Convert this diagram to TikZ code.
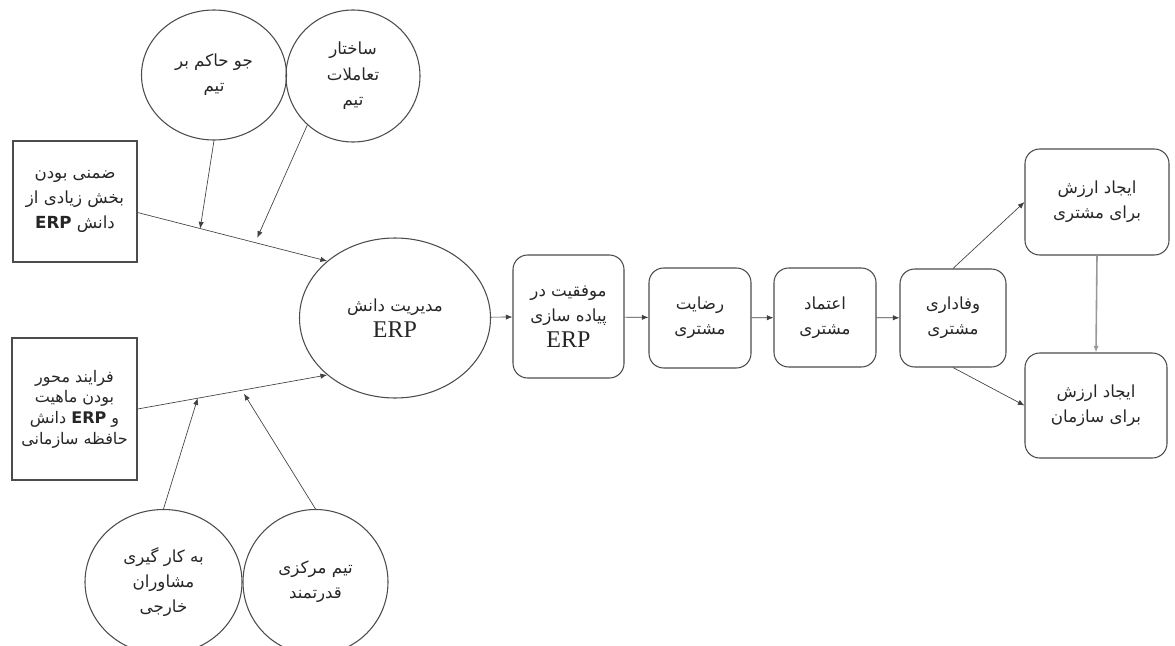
\documentclass[tikz,border=0pt]{standalone}
\usepackage{fontspec}
\usepackage{tikz}
\usetikzlibrary{arrows.meta, shapes.geometric}
\newfontfamily\arabicfont[Script=Arabic]{DejaVu Sans}
\newfontfamily\erpfont{Liberation Serif}
\TeXXeTstate=1
\newcommand{\fa}[1]{{\arabicfont\beginR #1\endR}}
\newcommand{\erp}{{\erpfont\fontsize{18}{21}\selectfont ERP}}

\tikzset{
  oval/.style={ellipse, draw=black!70, line width=0.8pt, inner sep=0pt, align=center,
    text=black!85, font=\fontsize{12.5}{19}\selectfont},
  sqbox/.style={rectangle, draw=black!70, line width=1pt, inner sep=0pt, align=center,
    text=black!85, font=\fontsize{12.5}{19}\selectfont},
  rbox/.style={rectangle, rounded corners=11pt, draw=black!70, line width=0.8pt, inner sep=0pt,
    align=center, text=black!85, font=\fontsize{12.5}{19}\selectfont},
  arr/.style={draw=black!75, line width=0.5pt, -{Latex[length=5pt,width=4pt]}},
}

\begin{document}
\begin{tikzpicture}[x=0.75pt, y=-0.75pt]
				\useasboundingbox (0,0) rectangle (1175,646);
				% Nodes:
				\node[oval, minimum width=108.75pt, minimum height=97.5pt] (N1) at (214,75) {\fa{جو حاکم بر}\\\fa{تیم}};
				\node[oval, minimum width=100.5pt, minimum height=99pt] (N2) at (353,76) {\fa{ساختار}\\\fa{تعاملات}\\\fa{تیم}};
				\node[sqbox, minimum width=93pt, minimum height=90.75pt] (N3) at (75,201.5) {\fa{ضمنی بودن}\\\fa{بخش زیادی از}\\\fa{دانش \textbf{ERP}}};
				\node[sqbox, minimum width=93.75pt, minimum height=106.5pt, font=\fontsize{12}{15.5}\selectfont] (N4) at (74.5,409) {\fa{فرایند محور}\\\fa{بودن ماهیت}\\\fa{و \textbf{ERP} دانش}\\\fa{حافظه سازمانی}};
				\node[oval, minimum width=117.75pt, minimum height=108.75pt] (N5) at (163.5,582) {\fa{به کار گیری}\\\fa{مشاوران}\\\fa{خارجی}};
				\node[oval, minimum width=108.75pt, minimum height=108.75pt] (N6) at (315.5,582) {\fa{تیم مرکزی}\\\fa{قدرتمند}};
				\node[oval, minimum width=143.25pt, minimum height=120pt] (N7) at (395,318) {\fa{مدیریت دانش}\\\erp};
				\node[rbox, minimum width=83.25pt, minimum height=92.25pt] (N8) at (568.5,316.5) {\fa{موفقیت در}\\\fa{پیاده سازی}\\\erp};
				\node[rbox, minimum width=76.5pt, minimum height=75pt] (N9) at (700,318) {\fa{رضایت}\\\fa{مشتری}};
				\node[rbox, minimum width=76.5pt, minimum height=74.25pt] (N10) at (825,317.5) {\fa{اعتماد}\\\fa{مشتری}};
				\node[rbox, minimum width=79.5pt, minimum height=73.5pt] (N11) at (953,318) {\fa{وفاداری}\\\fa{مشتری}};
				\node[rbox, minimum width=108pt, minimum height=79.5pt] (N12) at (1097,202) {\fa{ایجاد ارزش}\\\fa{برای مشتری}};
				\node[rbox, minimum width=106.5pt, minimum height=78.75pt] (N13) at (1096,405.5) {\fa{ایجاد ارزش}\\\fa{برای سازمان}};
				% Connectors:
				\path (N3.-10) -- (N7.140) coordinate[pos=0.33] (J1) coordinate[pos=0.62] (J2);
				\path (N4.east) -- (N7.220) coordinate[pos=0.317] (J3) coordinate[pos=0.55] (J4);
				\draw[arr] (N3.-10) -- (N7.140);
				\draw[arr] (N1.south) -- (J1);
				\draw[arr, shorten >=4pt] (N2.227) -- (J2);
				\draw[arr] (N4.east) -- (N7.220);
				\draw[arr] (N5.north) -- (J3);
				\draw[arr, shorten >=3pt] (N6.north) -- (J4);
				\draw[arr] (N7) -- (N8);
				\draw[arr] (N8) -- (N9);
				\draw[arr] (N9) -- (N10);
				\draw[arr] (N10) -- (N11);
				\draw[arr] (N11.north) -- (N12.west);
				\draw[arr] (N11.south) -- (N13.west);
				\draw[arr, draw=black!40, line width=1.2pt] (N12.south) -- (N13.north);
			\end{tikzpicture}
\end{document}
